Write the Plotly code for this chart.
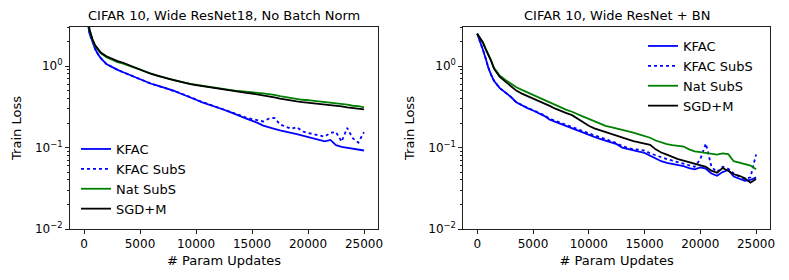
import plotly.graph_objects as go

# ---------------- data ----------------
steps = [0, 250, 500, 750, 1000, 1250, 1500, 2000, 2500, 3000, 3500, 4000, 4500, 5000,
         5500, 6000, 6500, 7000, 7500, 8000, 8500, 9000, 9500, 10000, 10500, 11000,
         11500, 12000, 12500, 13000, 13500, 14000, 14500, 15000, 15500, 16000, 16500,
         17000, 17500, 18000, 18500, 19000, 19500, 20000, 20500, 21000, 21500, 22000,
         22500, 23000, 23500, 24000, 24500, 25000]

# Left panel: CIFAR 10, Wide ResNet18, No Batch Norm
nobn_kfac = [9.0, 4.0, 2.5, 1.95, 1.62, 1.40, 1.25, 1.06, 0.97, 0.90, 0.84, 0.785, 0.735, 0.69,
             0.65, 0.607, 0.58, 0.553, 0.527, 0.50, 0.468, 0.442, 0.412, 0.386, 0.362, 0.344,
             0.326, 0.306, 0.291, 0.274, 0.259, 0.241, 0.226, 0.214, 0.201, 0.186, 0.176,
             0.170, 0.162, 0.158, 0.151, 0.146, 0.140, 0.136, 0.129, 0.126, 0.119, 0.124,
             0.107, 0.102, 0.099, 0.097, 0.094, 0.092]
nobn_kfac_subs = [9.0, 4.0, 2.5, 1.95, 1.62, 1.40, 1.25, 1.06, 0.97, 0.90, 0.84, 0.785, 0.735, 0.69,
                  0.65, 0.607, 0.58, 0.553, 0.527, 0.50, 0.47, 0.444, 0.414, 0.388, 0.364, 0.346,
                  0.328, 0.309, 0.294, 0.278, 0.263, 0.247, 0.232, 0.224, 0.214, 0.209, 0.226,
                  0.231, 0.192, 0.181, 0.170, 0.178, 0.158, 0.151, 0.146, 0.140, 0.136, 0.152,
                  0.155, 0.118, 0.174, 0.130, 0.115, 0.155]
nobn_nat_subs = [9.0, 4.4, 2.75, 2.1, 1.76, 1.57, 1.43, 1.29, 1.19, 1.12, 1.07, 1.01, 0.95, 0.90,
                 0.85, 0.80, 0.765, 0.73, 0.70, 0.675, 0.65, 0.626, 0.606, 0.59, 0.575, 0.562,
                 0.545, 0.532, 0.52, 0.51, 0.50, 0.49, 0.482, 0.476, 0.47, 0.462, 0.455, 0.442,
                 0.428, 0.416, 0.405, 0.397, 0.386, 0.381, 0.375, 0.366, 0.356, 0.351, 0.346,
                 0.341, 0.336, 0.326, 0.322, 0.311]
nobn_sgdm = [9.0, 4.5, 2.8, 2.15, 1.80, 1.60, 1.47, 1.32, 1.23, 1.15, 1.10, 1.03, 0.97, 0.92,
             0.86, 0.80, 0.77, 0.73, 0.70, 0.672, 0.645, 0.617, 0.60, 0.585, 0.57, 0.556,
             0.54, 0.526, 0.515, 0.50, 0.49, 0.481, 0.47, 0.461, 0.45, 0.441, 0.425, 0.412,
             0.399, 0.386, 0.375, 0.369, 0.361, 0.355, 0.350, 0.344, 0.340, 0.331, 0.325,
             0.320, 0.311, 0.305, 0.300, 0.295]

# Right panel: CIFAR 10, Wide ResNet + BN
bn_kfac = [2.5, 2.05, 1.6, 1.25, 0.95, 0.78, 0.66, 0.54, 0.48, 0.42, 0.36, 0.33, 0.305, 0.285,
           0.265, 0.245, 0.22, 0.207, 0.195, 0.18, 0.17, 0.16, 0.152, 0.142, 0.135, 0.128,
           0.122, 0.116, 0.110, 0.100, 0.096, 0.091, 0.089, 0.086, 0.080, 0.074, 0.068,
           0.065, 0.063, 0.061, 0.059, 0.056, 0.054, 0.057, 0.055, 0.048, 0.045, 0.050,
           0.053, 0.044, 0.041, 0.039, 0.040, 0.043]
bn_kfac_subs = [2.5, 2.05, 1.6, 1.25, 0.95, 0.78, 0.66, 0.54, 0.48, 0.42, 0.36, 0.33, 0.307, 0.288,
                0.268, 0.25, 0.226, 0.213, 0.20, 0.186, 0.176, 0.168, 0.158, 0.150, 0.141, 0.134,
                0.127, 0.120, 0.113, 0.104, 0.099, 0.095, 0.094, 0.092, 0.085, 0.080, 0.075,
                0.072, 0.069, 0.066, 0.063, 0.060, 0.058, 0.072, 0.112, 0.058, 0.050, 0.058,
                0.055, 0.048, 0.044, 0.041, 0.043, 0.082]
bn_nat_subs = [2.5, 2.22, 1.97, 1.65, 1.40, 1.17, 0.95, 0.77, 0.68, 0.61, 0.55, 0.51, 0.475, 0.44,
               0.41, 0.385, 0.36, 0.335, 0.31, 0.29, 0.275, 0.255, 0.24, 0.225, 0.21, 0.195,
               0.185, 0.178, 0.172, 0.165, 0.158, 0.152, 0.145, 0.138, 0.132, 0.122, 0.115,
               0.110, 0.107, 0.105, 0.103, 0.095, 0.090, 0.088, 0.086, 0.084, 0.082, 0.085,
               0.083, 0.068, 0.065, 0.062, 0.060, 0.054]
bn_sgdm = [2.5, 2.2, 1.95, 1.62, 1.38, 1.15, 0.93, 0.74, 0.65, 0.57, 0.50, 0.46, 0.43, 0.40,
           0.37, 0.35, 0.325, 0.30, 0.285, 0.265, 0.25, 0.225, 0.205, 0.185, 0.172, 0.163,
           0.155, 0.148, 0.140, 0.133, 0.126, 0.120, 0.116, 0.112, 0.108, 0.095, 0.087,
           0.082, 0.076, 0.072, 0.069, 0.066, 0.063, 0.060, 0.058, 0.052, 0.049, 0.056,
           0.052, 0.047, 0.045, 0.042, 0.037, 0.041]

series_names = ["KFAC", "KFAC SubS", "Nat SubS", "SGD+M"]
series_colors = ["#0000ff", "#0000ff", "#008000", "#000000"]
series_dash = ["solid", "dot", "solid", "solid"]

panel_titles = ["CIFAR 10, Wide ResNet18, No Batch Norm", "CIFAR 10, Wide ResNet + BN"]
x_tick_vals = [0, 5000, 10000, 15000, 20000, 25000]
x_tick_text = ["0", "5000", "10000", "15000", "20000", "25000"]
y_tick_vals = [0.01, 0.1, 1]
y_tick_text = ["10<sup>−2</sup>", "10<sup>−1</sup>", "10<sup>0</sup>"]
x_label = "# Param Updates"
y_label = "Train Loss"

# ---------------- figure ----------------
W, H = 789, 280
FONT = "DejaVu Sans"

fig = go.Figure()

panels = [
    ([nobn_kfac, nobn_kfac_subs, nobn_nat_subs, nobn_sgdm], "x", "y", "legend"),
    ([bn_kfac, bn_kfac_subs, bn_nat_subs, bn_sgdm], "x2", "y2", "legend2"),
]
for data, xa, ya, lg in panels:
    for vals, name, col, dash in zip(data, series_names, series_colors, series_dash):
        fig.add_trace(go.Scatter(
            x=steps, y=vals, mode="lines", name=name,
            line=dict(color=col, width=1.8, dash=dash),
            xaxis=xa, yaxis=ya, legend=lg, showlegend=True,
        ))

minor_vals = [m * 10 ** e for e in (-2, -1, 0) for m in range(2, 10)]

def px_x(p):
    return p / W

def px_y(p):
    return 1 - p / H

ydom = [px_y(229), px_y(27)]
xdoms = [[px_x(70), px_x(378)], [px_x(463.3), px_x(770)]]

axis_common = dict(
    showline=True, mirror=True, linecolor="#222222", linewidth=1,
    ticks="outside", ticklen=4, tickwidth=1, tickcolor="#222222",
    showgrid=False, zeroline=False, automargin=False,
    tickfont=dict(family=FONT, size=12, color="#000000"),
)

for i, (xa, ya) in enumerate([("xaxis", "yaxis"), ("xaxis2", "yaxis2")]):
    anchor_x = "y" if i == 0 else "y2"
    anchor_y = "x" if i == 0 else "x2"
    fig.update_layout(**{
        xa: dict(axis_common, domain=xdoms[i], anchor=anchor_x, range=[-1250, 26250],
                 tickmode="array", tickvals=x_tick_vals, ticktext=x_tick_text,
                 title=dict(text=x_label, font=dict(family=FONT, size=13, color="#000"), standoff=5)),
        ya: dict(axis_common, domain=ydom, anchor=anchor_y, type="log", range=[-2, 0.48],
                 tickmode="array", tickvals=y_tick_vals, ticktext=y_tick_text,
                 minor=dict(tickmode="array", tickvals=minor_vals, ticks="outside", ticklen=2,
                            tickcolor="#222222", tickwidth=1),
                 title=dict(text=y_label, font=dict(family=FONT, size=13, color="#000"), standoff=10)),
    })

for i, t in enumerate(panel_titles):
    fig.add_annotation(text=t, xref="paper", yref="paper",
                       x=(xdoms[i][0] + xdoms[i][1]) / 2, y=px_y(15),
                       xanchor="center", yanchor="middle", showarrow=False,
                       font=dict(family=FONT, size=13, color="#000"))

legend_common = dict(bgcolor="rgba(0,0,0,0)", borderwidth=0,
                     font=dict(family=FONT, size=13, color="#000"),
                     xanchor="left", yanchor="top", tracegroupgap=0)

fig.update_layout(
    width=W, height=H,
    margin=dict(l=0, r=0, t=0, b=0),
    paper_bgcolor="white", plot_bgcolor="white",
    font=dict(family=FONT, size=13, color="#000"),
    legend=dict(legend_common, x=px_x(76), y=px_y(134)),
    legend2=dict(legend_common, x=px_x(643), y=px_y(31)),
)

fig.write_html("out.html", config={"displayModeBar": False},
               post_script="document.body.style.margin='0';")
